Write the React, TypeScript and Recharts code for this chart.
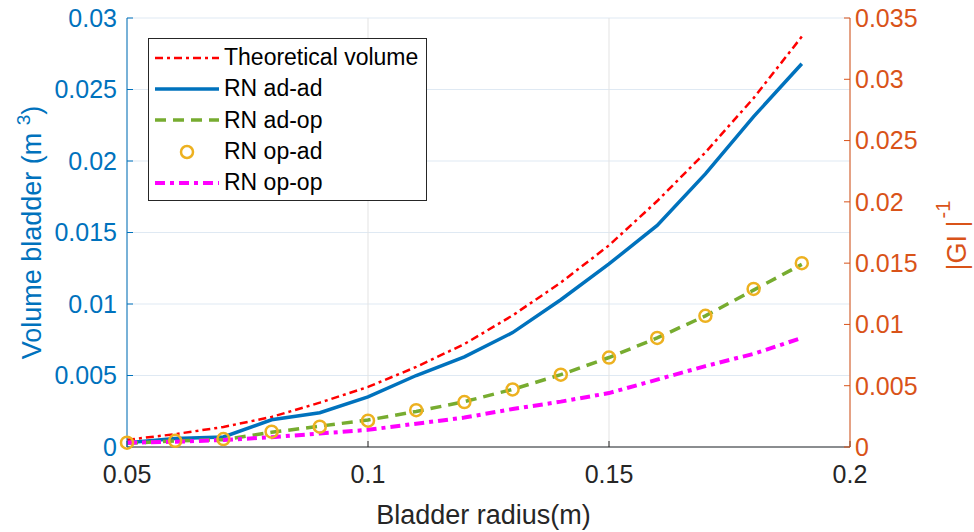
import React from "react";
import { LineChart, Line, XAxis, YAxis, CartesianGrid, Legend } from "recharts";

// bladder radius (m)
const radius = [0.05, 0.06, 0.07, 0.08, 0.09, 0.1, 0.11, 0.12, 0.13, 0.14, 0.15, 0.16, 0.17, 0.18, 0.19];

// left axis: volume (m^3)
const theoretical = [0.0005, 0.0009, 0.0014, 0.0021, 0.0031, 0.0042, 0.0056, 0.0072, 0.0092, 0.0115, 0.0141, 0.0172, 0.0206, 0.0244, 0.0287];
const adAd = [0.0003, 0.0006, 0.0007, 0.0019, 0.0024, 0.0035, 0.005, 0.0063, 0.008, 0.0103, 0.0128, 0.0155, 0.0191, 0.0231, 0.0268];

// right axis: |GI|^-1
const adOp = [0.0003, 0.0005, 0.0006, 0.0012, 0.0017, 0.0022, 0.0029, 0.0037, 0.0047, 0.0059, 0.0073, 0.0089, 0.0107, 0.0128, 0.0149];
const opAd = [0.00035, 0.0005, 0.00065, 0.00125, 0.00166, 0.00215, 0.003, 0.00367, 0.0047, 0.0059, 0.0073, 0.0089, 0.0107, 0.0129, 0.015];
const opOp = [0.00035, 0.00043, 0.00057, 0.0008, 0.0011, 0.0014, 0.0019, 0.0024, 0.0031, 0.0037, 0.0044, 0.0055, 0.0066, 0.0076, 0.0089];

const xTicks = [0.05, 0.1, 0.15, 0.2];
const leftTicks = [0, 0.005, 0.01, 0.015, 0.02, 0.025, 0.03];
const rightTicks = [0, 0.005, 0.01, 0.015, 0.02, 0.025, 0.03, 0.035];

const data = radius.map((r, i) => ({
  r,
  theoretical: theoretical[i],
  adAd: adAd[i],
  adOp: adOp[i],
  opAd: opAd[i],
  opOp: opOp[i],
}));

const FONT = "'Liberation Sans', Arial, Helvetica, sans-serif";
const BLUE = "#0072BD";
const ORANGE = "#D95319";
const DARK = "#262626";

const series = [
  { key: "theoretical", name: "Theoretical volume", color: "#FF0000", width: 2.5, dash: "8 4 3 4", axis: "left" },
  { key: "adAd", name: "RN ad-ad", color: BLUE, width: 3.5, dash: undefined, axis: "left" },
  { key: "adOp", name: "RN ad-op", color: "#77AC30", width: 3.5, dash: "11 7", axis: "right" },
  { key: "opAd", name: "RN op-ad", color: "#EDB120", width: 2.5, dash: undefined, axis: "right", marker: true },
  { key: "opOp", name: "RN op-op", color: "#FF00FF", width: 4, dash: "10 5 4 5", axis: "right" },
];

function LegendBox() {
  return (
    <div
      style={{
        border: `1px solid ${DARK}`,
        background: "#fff",
        padding: "3px 8px 2px 6px",
        fontFamily: FONT,
        fontSize: 23,
        color: "#000",
        lineHeight: 1,
      }}
    >
      {series.map((s) => (
        <div key={s.key} style={{ display: "flex", alignItems: "center", height: 31.3 }}>
          <svg width={64} height={20} style={{ display: "block" }}>
            {s.marker ? (
              <circle cx={32} cy={10} r={6} fill="none" stroke={s.color} strokeWidth={s.width} />
            ) : (
              <line x1={0} y1={10} x2={64} y2={10} stroke={s.color} strokeWidth={s.width} strokeDasharray={s.dash} />
            )}
          </svg>
          <span style={{ marginLeft: 5, whiteSpace: "nowrap" }}>{s.name}</span>
        </div>
      ))}
    </div>
  );
}

const leftLabel = ({ viewBox }: any) => {
  const cx = viewBox.x + 14;
  const cy = viewBox.y + viewBox.height / 2;
  return (
    <text x={cx} y={cy} transform={`rotate(-90 ${cx} ${cy})`} textAnchor="middle" fill={BLUE} fontSize={27} fontFamily={FONT}>
      Volume bladder (m <tspan fontSize={19} dy={-11}>3</tspan>
      <tspan dy={11}>)</tspan>
    </text>
  );
};

const rightLabel = ({ viewBox }: any) => {
  const cx = viewBox.x + viewBox.width + 6;
  const cy = viewBox.y + viewBox.height / 2 + 3;
  return (
    <text x={cx} y={cy} transform={`rotate(-90 ${cx} ${cy})`} textAnchor="middle" fill={ORANGE} fontSize={27} fontFamily={FONT}>
      |GI |<tspan fontSize={20} dx={2} dy={-16}>-1</tspan>
    </text>
  );
};

const bottomLabel = ({ viewBox }: any) => (
  <text x={viewBox.x + viewBox.width / 2 - 5} y={viewBox.y + 77} textAnchor="middle" fill={DARK} fontSize={27} fontFamily={FONT}>
    Bladder radius(m)
  </text>
);

export default function App() {
  return (
    <div style={{ position: "absolute", left: 0, top: 0, width: 974, height: 532, background: "#fff" }}>
      <LineChart width={974} height={532} data={data} margin={{ top: 18, right: 14, bottom: 15, left: 27 }}>
        <CartesianGrid xAxisId="bottom" yAxisId="left" horizontal={true} vertical={false} stroke="#dfe9f3" strokeWidth={1} />
        <CartesianGrid xAxisId="bottom" yAxisId="left" horizontal={false} vertical={true} stroke="#e3e3e3" strokeWidth={1} />
        <XAxis
          xAxisId="bottom"
          dataKey="r"
          type="number"
          domain={[0.05, 0.2]}
          ticks={xTicks}
          height={70}
          stroke={DARK}
          tickSize={-6}
          tickMargin={24}
          tick={{ fill: DARK, fontSize: 25, fontFamily: FONT }}
          label={bottomLabel}
        />
        <XAxis
          xAxisId="top"
          orientation="top"
          dataKey="r"
          type="number"
          domain={[0.05, 0.2]}
          ticks={xTicks}
          height={0}
          stroke={DARK}
          tickSize={-6}
          tickFormatter={() => ""}
        />
        <YAxis
          yAxisId="left"
          type="number"
          domain={[0, 0.03]}
          ticks={leftTicks}
          width={100}
          stroke={BLUE}
          tickSize={-6}
          tickMargin={16}
          tick={{ fill: BLUE, fontSize: 25, fontFamily: FONT }}
          label={leftLabel}
        />
        <YAxis
          yAxisId="right"
          orientation="right"
          type="number"
          domain={[0, 0.035]}
          ticks={rightTicks}
          width={110}
          stroke={ORANGE}
          tickSize={-6}
          tickMargin={11}
          tick={{ fill: ORANGE, fontSize: 25, fontFamily: FONT }}
          label={rightLabel}
        />
        <Legend
          layout="horizontal"
          verticalAlign="middle"
          align="center"
          wrapperStyle={{ left: 148, top: 38, width: "auto" }}
          content={() => <LegendBox />}
        />
        {series.map((s) =>
          s.marker ? (
            <Line
              key={s.key}
              xAxisId="bottom"
              yAxisId={s.axis}
              dataKey={s.key}
              name={s.name}
              stroke="none"
              dot={{ r: 6, fill: "none", stroke: s.color, strokeWidth: s.width }}
              activeDot={false}
              isAnimationActive={false}
            />
          ) : (
            <Line
              key={s.key}
              xAxisId="bottom"
              yAxisId={s.axis}
              type="linear"
              dataKey={s.key}
              name={s.name}
              stroke={s.color}
              strokeWidth={s.width}
              strokeDasharray={s.dash}
              dot={false}
              activeDot={false}
              isAnimationActive={false}
            />
          )
        )}
      </LineChart>
    </div>
  );
}
